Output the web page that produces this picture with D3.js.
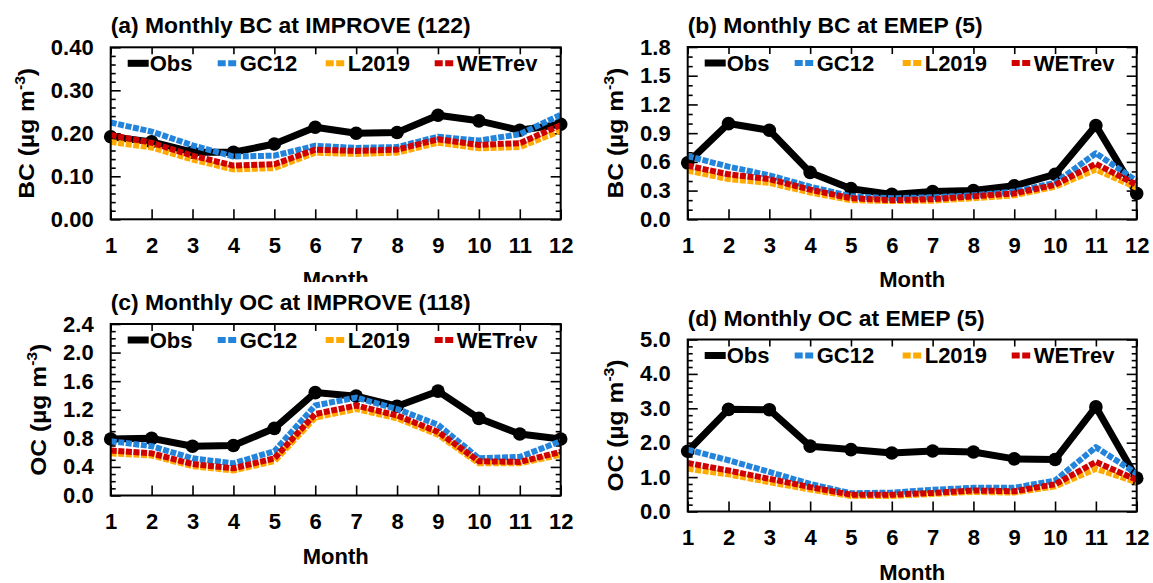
<!DOCTYPE html>
<html>
<head>
<meta charset="utf-8">
<script src="https://cdn.jsdelivr.net/npm/d3@7"></script>
<style>
  body { margin: 0; background: #fff; }
  svg { display: block; font-family: "Liberation Sans", Arial, Helvetica, sans-serif; font-weight: bold; }
</style>
</head>
<body>
<svg id="chart" width="1153" height="583"></svg>
<script>
// months on the x axis
var months = [1, 2, 3, 4, 5, 6, 7, 8, 9, 10, 11, 12];
var seriesNames = ["Obs", "GC12", "L2019", "WETrev"];

// (a) BC at IMPROVE
var bcImproveObs    = [0.192, 0.180, 0.156, 0.156, 0.175, 0.214, 0.200, 0.202, 0.242, 0.229, 0.207, 0.221];
var bcImproveGC12   = [0.225, 0.204, 0.172, 0.146, 0.148, 0.171, 0.166, 0.168, 0.192, 0.183, 0.198, 0.243];
var bcImproveL2019  = [0.180, 0.167, 0.139, 0.116, 0.119, 0.155, 0.152, 0.155, 0.178, 0.165, 0.168, 0.206];
var bcImproveWETrev = [0.196, 0.178, 0.148, 0.125, 0.128, 0.162, 0.159, 0.162, 0.186, 0.173, 0.177, 0.219];

// (b) BC at EMEP
var bcEmepObs    = [0.59, 1.00, 0.93, 0.49, 0.32, 0.26, 0.29, 0.30, 0.35, 0.47, 0.98, 0.27];
var bcEmepGC12   = [0.66, 0.55, 0.46, 0.34, 0.24, 0.22, 0.23, 0.25, 0.29, 0.38, 0.69, 0.40];
var bcEmepL2019  = [0.51, 0.42, 0.38, 0.28, 0.20, 0.19, 0.195, 0.22, 0.25, 0.34, 0.52, 0.33];
var bcEmepWETrev = [0.56, 0.47, 0.42, 0.31, 0.22, 0.20, 0.21, 0.24, 0.27, 0.36, 0.58, 0.36];

// (c) OC at IMPROVE
var ocImproveObs    = [0.79, 0.80, 0.69, 0.70, 0.94, 1.44, 1.39, 1.25, 1.46, 1.08, 0.86, 0.79];
var ocImproveGC12   = [0.76, 0.69, 0.52, 0.45, 0.62, 1.26, 1.37, 1.21, 0.99, 0.52, 0.54, 0.76];
var ocImproveL2019  = [0.59, 0.56, 0.41, 0.35, 0.48, 1.09, 1.21, 1.08, 0.85, 0.45, 0.45, 0.57];
var ocImproveWETrev = [0.63, 0.59, 0.44, 0.38, 0.52, 1.14, 1.26, 1.12, 0.89, 0.48, 0.47, 0.61];

// (d) OC at EMEP
var ocEmepObs    = [1.75, 2.97, 2.96, 1.90, 1.80, 1.70, 1.76, 1.73, 1.53, 1.51, 3.04, 0.97];
var ocEmepGC12   = [1.80, 1.49, 1.15, 0.80, 0.53, 0.55, 0.63, 0.69, 0.69, 0.90, 1.87, 1.10];
var ocEmepL2019  = [1.24, 1.08, 0.85, 0.64, 0.45, 0.45, 0.51, 0.57, 0.55, 0.73, 1.24, 0.85];
var ocEmepWETrev = [1.41, 1.19, 0.95, 0.71, 0.49, 0.49, 0.54, 0.61, 0.59, 0.79, 1.44, 0.92];

// y axis tick values
var bcImproveTicks = [0.0, 0.1, 0.2, 0.3, 0.4];
var bcEmepTicks    = [0.0, 0.3, 0.6, 0.9, 1.2, 1.5, 1.8];
var ocImproveTicks = [0.0, 0.4, 0.8, 1.2, 1.6, 2.0, 2.4];
var ocEmepTicks    = [0.0, 1.0, 2.0, 3.0, 4.0, 5.0];

var colors = { Obs: "#000000", GC12: "#2384dc", L2019: "#ffaa00", WETrev: "#d00000" };

var panels = [
  { title: "(a) Monthly BC at IMPROVE (122)", titleW: 360, species: "BC", ticks: bcImproveTicks, minor: 0.02, fmt: ".2f",
    series: [bcImproveObs, bcImproveGC12, bcImproveL2019, bcImproveWETrev],
    left: 110.7, top: 47.3, w: 450, h: 172, labelGap: 84 },
  { title: "(b) Monthly BC at EMEP (5)", titleW: 295, species: "BC", ticks: bcEmepTicks, minor: 0.1, fmt: ".1f",
    series: [bcEmepObs, bcEmepGC12, bcEmepL2019, bcEmepWETrev],
    left: 687.7, top: 47, w: 449, h: 172.3, labelGap: 72 },
  { title: "(c) Monthly OC at IMPROVE (118)", titleW: 360, species: "OC", ticks: ocImproveTicks, minor: 0.1, fmt: ".1f",
    series: [ocImproveObs, ocImproveGC12, ocImproveL2019, ocImproveWETrev],
    left: 110.7, top: 324, w: 450, h: 171.5, labelGap: 72, cover: true },
  { title: "(d) Monthly OC at EMEP (5)", titleW: 297, species: "OC", ticks: ocEmepTicks, minor: 0.2, fmt: ".1f",
    series: [ocEmepObs, ocEmepGC12, ocEmepL2019, ocEmepWETrev],
    left: 687.7, top: 339.5, w: 449, h: 172, labelGap: 72 }
];

var svg = d3.select("#chart");
var legendOffsets = [17, 107, 215, 324];

panels.forEach(function (p) {
  // panel (c) sits on top of panel (a)'s lower edge
  if (p.cover) {
    svg.append("rect").attr("x", 0).attr("y", 282).attr("width", 580).attr("height", 301).attr("fill", "#fff");
  }

  var g = svg.append("g").attr("transform", "translate(" + p.left + "," + p.top + ")");

  var x = d3.scaleLinear().domain([1, 12]).range([0, p.w]);
  var yMax = p.ticks[p.ticks.length - 1];
  var y = d3.scaleLinear().domain([0, yMax]).range([p.h, 0]);
  var minorTicks = d3.range(0, yMax + 1e-9, p.minor).filter(function (v) {
    return p.ticks.every(function (t) { return Math.abs(t - v) > 1e-6; });
  });

  // title
  g.append("text").attr("x", 0).attr("y", -14).attr("font-size", 22)
    .attr("textLength", p.titleW).attr("lengthAdjust", "spacingAndGlyphs").text(p.title);

  // axes
  g.append("g").attr("transform", "translate(0," + p.h + ")")
    .call(d3.axisBottom(x).tickValues(months).tickFormat(d3.format("d")).tickSize(-10).tickPadding(18));
  g.append("g")
    .call(d3.axisLeft(y).tickValues(p.ticks).tickFormat(d3.format(p.fmt)).tickSize(-10).tickPadding(17));
  g.append("g").call(d3.axisLeft(y).tickValues(minorTicks).tickFormat("").tickSize(-5));
  g.append("g").attr("transform", "translate(" + p.w + ",0)")
    .call(d3.axisRight(y).tickValues(p.ticks).tickFormat("").tickSize(-10));
  g.append("g").attr("transform", "translate(" + p.w + ",0)")
    .call(d3.axisRight(y).tickValues(minorTicks).tickFormat("").tickSize(-5));
  g.append("g").call(d3.axisTop(x).tickValues(months).tickFormat("").tickSize(-7));

  g.selectAll(".domain").remove();
  g.selectAll(".tick line").attr("stroke", "#000").attr("stroke-width", 1.6);
  g.selectAll(".tick text").attr("font-size", 22).attr("font-family", null).attr("fill", "#000");

  // axis titles
  g.append("text").attr("x", p.w / 2).attr("y", p.h + 68).attr("text-anchor", "middle")
    .attr("font-size", 22).text("Month");
  var yl = g.append("text")
    .attr("transform", "translate(" + (-p.labelGap) + "," + (p.h / 2) + ") rotate(-90) scale(1.12,1)")
    .attr("text-anchor", "middle").attr("dy", "0.35em").attr("font-size", 22);
  yl.append("tspan").text(p.species + " (\u00b5g m");
  yl.append("tspan").attr("dy", -9).attr("font-size", 14).text("-3");
  yl.append("tspan").attr("dy", 9).text(")");

  // lines
  var line = d3.line().x(function (d, i) { return x(months[i]); }).y(function (d) { return y(d); });
  p.series.forEach(function (vals, k) {
    var name = seriesNames[k];
    var path = g.append("path").datum(vals).attr("d", line).attr("fill", "none")
      .attr("stroke", colors[name]).attr("stroke-linejoin", "round");
    if (k === 0) {
      path.attr("stroke-width", 7);
      g.selectAll(".obsdot").data(vals).enter().append("circle")
        .attr("cx", function (d, i) { return x(months[i]); })
        .attr("cy", function (d) { return y(d); })
        .attr("r", 6.8).attr("fill", "#000");
    } else {
      path.attr("stroke-width", 6).attr("stroke-dasharray", "6 1.6");
    }
  });

  // legend
  seriesNames.forEach(function (name, k) {
    var lx = legendOffsets[k], ly = 16;
    var seg = g.append("line").attr("x1", lx).attr("x2", lx + 21).attr("y1", ly).attr("y2", ly)
      .attr("stroke", colors[name]).attr("stroke-width", k === 0 ? 7 : 6);
    if (k > 0) seg.attr("stroke-dasharray", "8 2.5");
    g.append("text").attr("x", lx + 22).attr("y", ly).attr("dy", "0.36em").attr("font-size", 22).text(name);
  });

  // frame
  g.append("rect").attr("width", p.w).attr("height", p.h).attr("fill", "none")
    .attr("stroke", "#000").attr("stroke-width", 2);
});
</script>
</body>
</html>
